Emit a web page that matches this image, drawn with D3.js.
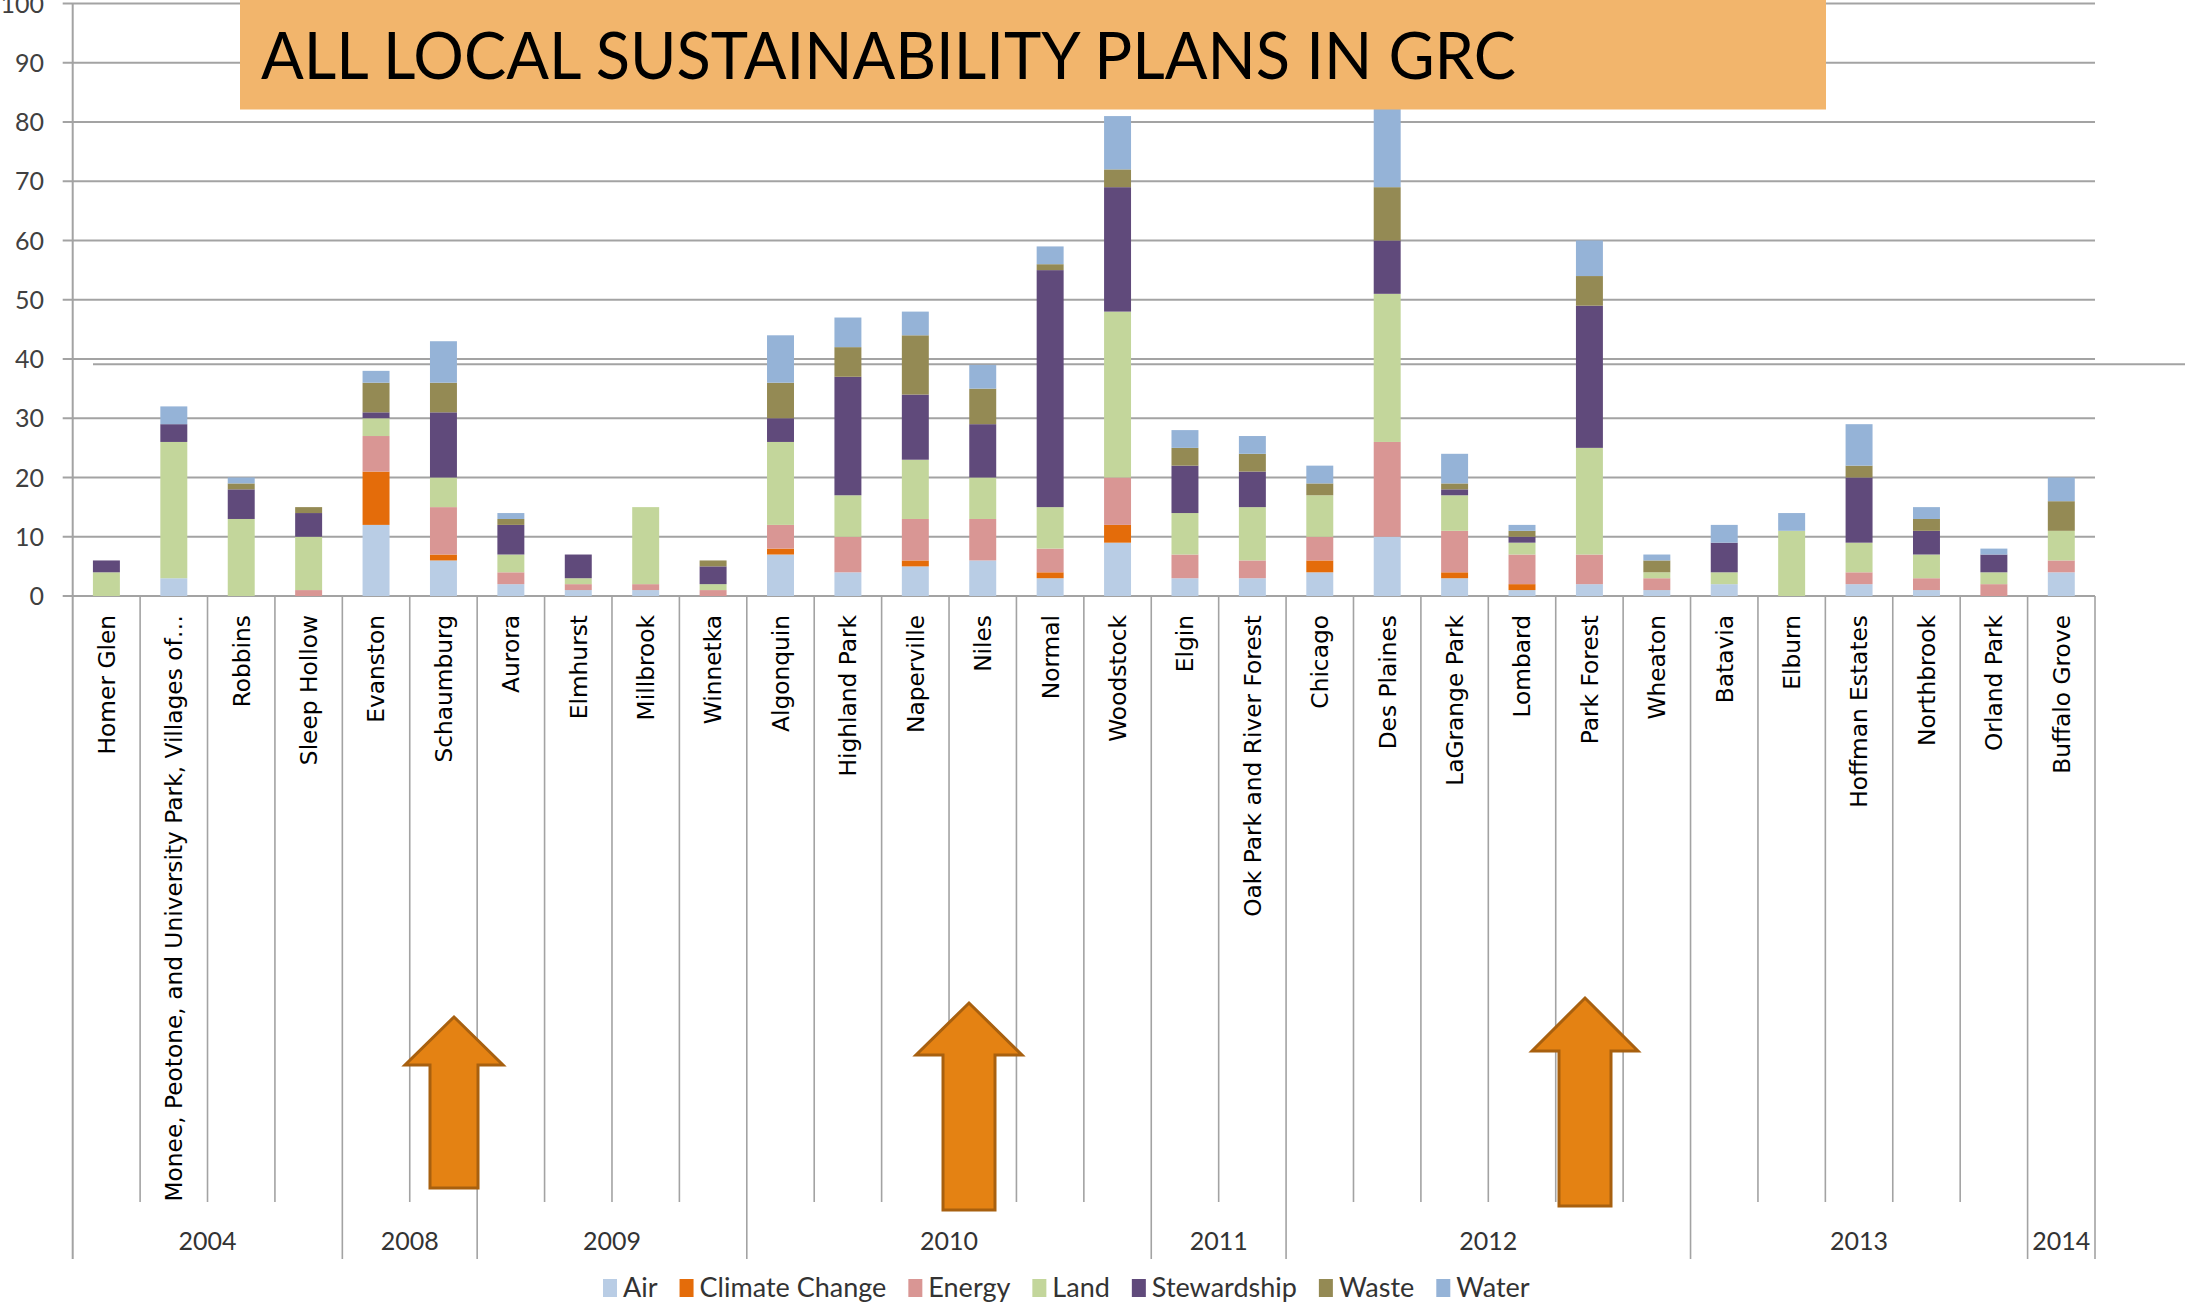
<!DOCTYPE html>
<html>
<head>
<meta charset="utf-8">
<script src="https://cdn.jsdelivr.net/npm/d3@7"></script>
<style>
  body { margin: 0; background: #fff; }
  svg { display: block; }
</style>
</head>
<body>
<svg id="chart"></svg>
<script>
// categories (towns) in plot order
var towns = ['Homer Glen', 'Monee, Peotone, and University Park, Villages of\u2026', 'Robbins', 'Sleep Hollow',
  'Evanston', 'Schaumburg', 'Aurora', 'Elmhurst', 'Millbrook', 'Winnetka', 'Algonquin', 'Highland Park',
  'Naperville', 'Niles', 'Normal', 'Woodstock', 'Elgin', 'Oak Park and River Forest', 'Chicago', 'Des Plaines',
  'LaGrange Park', 'Lombard', 'Park Forest', 'Wheaton', 'Batavia', 'Elburn', 'Hoffman Estates', 'Northbrook',
  'Orland Park', 'Buffalo Grove'];

// year groups and how many towns each spans
var years = ['2004', '2008', '2009', '2010', '2011', '2012', '2013', '2014'];
var yearCounts = [4, 2, 4, 6, 2, 6, 5, 1];

var seriesNames = ['Air', 'Climate Change', 'Energy', 'Land', 'Stewardship', 'Waste', 'Water'];
var seriesColors = ['#b9cde5', '#e46c0a', '#d99694', '#c3d69b', '#604a7b', '#948a54', '#95b3d7'];

var air           = [0, 3, 0, 0, 12, 6, 2, 1, 1, 0, 7, 4, 5, 6, 3, 9, 3, 3, 4, 10, 3, 1, 2, 1, 2, 0, 2, 1, 0, 4];
var climateChange = [0, 0, 0, 0, 9, 1, 0, 0, 0, 0, 1, 0, 1, 0, 1, 3, 0, 0, 2, 0, 1, 1, 0, 0, 0, 0, 0, 0, 0, 0];
var energy        = [0, 0, 0, 1, 6, 8, 2, 1, 1, 1, 4, 6, 7, 7, 4, 8, 4, 3, 4, 16, 7, 5, 5, 2, 0, 0, 2, 2, 2, 2];
var land          = [4, 23, 13, 9, 3, 5, 3, 1, 13, 1, 14, 7, 10, 7, 7, 28, 7, 9, 7, 25, 6, 2, 18, 1, 2, 11, 5, 4, 2, 5];
var stewardship   = [2, 3, 5, 4, 1, 11, 5, 4, 0, 3, 4, 20, 11, 9, 40, 21, 8, 6, 0, 9, 1, 1, 24, 0, 5, 0, 11, 4, 3, 0];
var waste         = [0, 0, 1, 1, 5, 5, 1, 0, 0, 1, 6, 5, 10, 6, 1, 3, 3, 3, 2, 9, 1, 1, 5, 2, 0, 0, 2, 2, 0, 5];
var water         = [0, 3, 1, 0, 2, 7, 1, 0, 0, 0, 8, 5, 4, 4, 3, 9, 3, 3, 3, 14, 5, 1, 6, 1, 3, 3, 7, 2, 1, 4];

var yTicks = [0, 10, 20, 30, 40, 50, 60, 70, 80, 90, 100];

var W = 2185, H = 1303;
var left = 72.7, right = 2095, y0 = 596, y100 = 3.5;
var catTickBottom = 1202, groupTickBottom = 1259;
var gridColor = '#a3a3a3';

var svg = d3.select('#chart').attr('width', W).attr('height', H)
  .style('font-family', 'Lato, "Open Sans", sans-serif');

var x = d3.scaleBand().domain(towns).range([left, right]).padding(0);
var y = d3.scaleLinear().domain([0, 100]).range([y0, y100]);

var table = towns.map(function(t, i) {
  return {town: t, 'Air': air[i], 'Climate Change': climateChange[i], 'Energy': energy[i], 'Land': land[i],
          'Stewardship': stewardship[i], 'Waste': waste[i], 'Water': water[i]};
});
var stacked = d3.stack().keys(seriesNames)(table);
var color = d3.scaleOrdinal().domain(seriesNames).range(seriesColors);

// gridlines
svg.append('g').selectAll('line')
  .data(yTicks).enter().append('line')
  .attr('x1', left - 10).attr('x2', right)
  .attr('y1', function(d) { return y(d); }).attr('y2', function(d) { return y(d); })
  .attr('stroke', gridColor).attr('stroke-width', 2);

// stray line left over in the slide
svg.append('line')
  .attr('x1', 93).attr('x2', W).attr('y1', y(39.1)).attr('y2', y(39.1))
  .attr('stroke', gridColor).attr('stroke-width', 2);

// bars
var barW = x.bandwidth() * 0.4;
svg.append('g').selectAll('g')
  .data(stacked).enter().append('g')
  .attr('fill', function(d) { return color(d.key); })
  .selectAll('rect')
  .data(function(d) { return d; }).enter().append('rect')
  .attr('x', function(d) { return x(d.data.town) + (x.bandwidth() - barW) / 2; })
  .attr('width', barW)
  .attr('y', function(d) { return y(d[1]); })
  .attr('height', function(d) { return y(d[0]) - y(d[1]); });

// y tick labels
svg.append('g').selectAll('text')
  .data(yTicks).enter().append('text')
  .attr('x', 44).attr('y', function(d) { return y(d); })
  .attr('dy', '0.36em')
  .attr('text-anchor', 'end')
  .attr('font-size', 25).attr('fill', '#404040')
  .text(function(d) { return d; });

// y axis line, continues down as the left boundary
svg.append('line')
  .attr('x1', left).attr('x2', left).attr('y1', y100).attr('y2', groupTickBottom)
  .attr('stroke', gridColor).attr('stroke-width', 2);

// category separators and group separators
var bounds = [0];
yearCounts.forEach(function(c) { bounds.push(bounds[bounds.length - 1] + c); });
var sepIdx = d3.range(1, towns.length + 1);
svg.append('g').selectAll('line')
  .data(sepIdx).enter().append('line')
  .attr('x1', function(i) { return left + i * x.step(); })
  .attr('x2', function(i) { return left + i * x.step(); })
  .attr('y1', y0)
  .attr('y2', function(i) { return bounds.indexOf(i) >= 0 ? groupTickBottom : catTickBottom; })
  .attr('stroke', gridColor).attr('stroke-width', 1.6);

// town labels
svg.append('g').selectAll('text')
  .data(towns).enter().append('text')
  .attr('transform', function(d) { return 'translate(' + (x(d) + x.bandwidth() / 2) + ',615) rotate(-90)'; })
  .attr('text-anchor', 'end')
  .attr('dy', '0.36em')
  .style('font-family', '"DejaVu Sans", Verdana, sans-serif')
  .attr('font-size', 23.3).attr('fill', '#000')
  .text(function(d) { return d; });

// year labels
svg.append('g').selectAll('text')
  .data(years).enter().append('text')
  .attr('x', function(d, i) { return left + (bounds[i] + bounds[i + 1]) / 2 * x.step(); })
  .attr('y', 1250)
  .attr('text-anchor', 'middle')
  .attr('font-size', 25).attr('fill', '#333')
  .text(function(d) { return d; });

// legend
var legend = svg.append('g');
var lx = 603;
seriesNames.forEach(function(name) {
  legend.append('rect').attr('x', lx).attr('y', 1279).attr('width', 14).attr('height', 18)
    .attr('fill', color(name));
  var t = legend.append('text').attr('x', lx + 20).attr('y', 1297)
    .attr('font-size', 27).attr('fill', '#333').text(name);
  lx += 20 + t.node().getComputedTextLength() + 22;
});

// title box
svg.append('rect').attr('x', 240).attr('y', 0).attr('width', 1586).attr('height', 109.5)
  .attr('fill', '#f2b56c');
svg.append('text').attr('x', 261).attr('y', 79)
  .attr('font-size', 66).attr('fill', '#000')
  .attr('textLength', 1255).attr('lengthAdjust', 'spacingAndGlyphs')
  .text('ALL LOCAL SUSTAINABILITY PLANS IN GRC');

// annotation arrows
var arrows = [
  {cx: 454, tip: 1017, hw: 49, hb: 1065, sw: 24, bottom: 1188},
  {cx: 969, tip: 1003, hw: 53, hb: 1055, sw: 26, bottom: 1210},
  {cx: 1585, tip: 998, hw: 53, hb: 1051, sw: 26, bottom: 1206}
];
svg.append('g').selectAll('path')
  .data(arrows).enter().append('path')
  .attr('d', function(a) {
    return 'M' + a.cx + ',' + a.tip +
      'L' + (a.cx + a.hw) + ',' + a.hb +
      'L' + (a.cx + a.sw) + ',' + a.hb +
      'L' + (a.cx + a.sw) + ',' + a.bottom +
      'L' + (a.cx - a.sw) + ',' + a.bottom +
      'L' + (a.cx - a.sw) + ',' + a.hb +
      'L' + (a.cx - a.hw) + ',' + a.hb + 'Z';
  })
  .attr('fill', '#e48213').attr('stroke', '#a8600f').attr('stroke-width', 3);
</script>
</body>
</html>
